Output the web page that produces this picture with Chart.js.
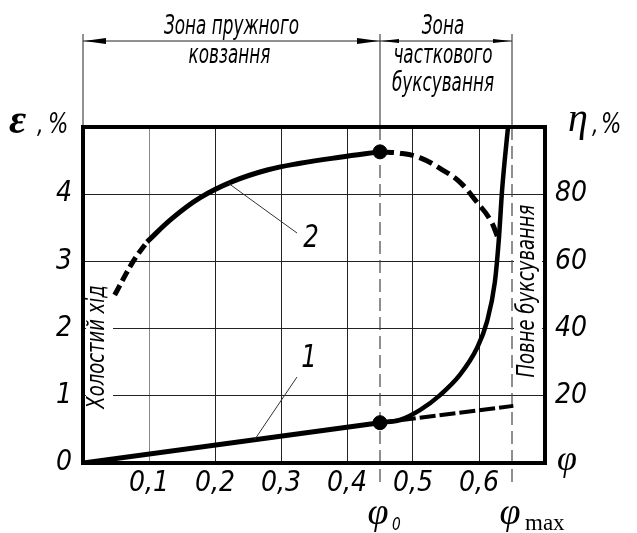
<!DOCTYPE html>
<html>
<head>
<meta charset="utf-8">
<script src="https://cdn.jsdelivr.net/npm/chart.js@4.4.1/dist/chart.umd.min.js"></script>
<style>
  html, body { margin: 0; background: #fff; }
  #wrap { width: 637px; height: 533px; }
</style>
</head>
<body>
<div id="wrap"><canvas id="chart"></canvas></div>
<script>
// tick labels
const xTickLabels = ['0,1', '0,2', '0,3', '0,4', '0,5', '0,6'];
const epsTickLabels = ['0', '1', '2', '3', '4'];
const etaTickLabels = ['20', '40', '60', '80'];

// characteristic points on the φ axis
const phi0 = 0.45;
const phiMax = 0.65;

// curve 1 - slip ε, %
const slipPhi = [0, 0.45];
const slipEps = [0, 0.6];
const slipTailPhi = [0.45, 0.652];
const slipTailEps = [0.6, 0.85];
const slipRisePhi = [0.45, 0.48, 0.511, 0.541, 0.571, 0.597, 0.612, 0.624, 0.630, 0.635, 0.639, 0.644];
const slipRiseEps = [0.6, 0.64, 0.79, 1.01, 1.31, 1.71, 2.10, 2.69, 3.32, 4.06, 4.51, 5.0];

// curve 2 - efficiency η, %
const effStartPhi = [0.048, 0.076, 0.097];
const effStartEta = [50, 60, 65.8];
const effMainPhi = [0.097, 0.135, 0.177, 0.227, 0.279, 0.329, 0.389, 0.45];
const effMainEta = [65.8, 72.8, 78.9, 83.8, 87.2, 89.2, 91.0, 92.6];
const effEndPhi = [0.45, 0.48, 0.511, 0.545, 0.571, 0.597, 0.617, 0.630];
const effEndEta = [92.6, 92.2, 90.8, 87.2, 83.6, 77.6, 72.4, 66.4];

const toXY = (xs, ys) => xs.map((v, i) => ({ x: v, y: ys[i] }));

const GOST = '"DejaVu Sans Condensed", "DejaVu Sans", sans-serif';
const SERIF = '"Liberation Serif", "DejaVu Serif", serif';

// draws text squeezed horizontally, like the narrow drafting font
function narrowText(ctx, txt, x, y, font, sx, rot) {
  ctx.save();
  ctx.translate(x, y);
  if (rot) ctx.rotate(rot);
  ctx.scale(sx, 1);
  ctx.font = font;
  ctx.fillText(txt, 0, 0);
  ctx.restore();
}

const drawings = {
  id: 'drawings',
  beforeDatasetsDraw(chart) {
    const { ctx, chartArea: a, scales: { x } } = chart;
    const xa = x.getPixelForValue(phi0);
    const xb = x.getPixelForValue(phiMax);
    ctx.save();
    // white backing under the rotated notes
    ctx.fillStyle = '#fff';
    ctx.fillRect(a.left + 3, 274, 27, 148);
    ctx.fillRect(xb + 2, 198, 28, 186);

    // dashed φ0 / φmax lines
    ctx.strokeStyle = '#444';
    ctx.lineWidth = 1.2;
    ctx.setLineDash([13, 6]);
    [xa, xb].forEach(px => {
      ctx.beginPath();
      ctx.moveTo(px, a.top);
      ctx.lineTo(px, a.bottom + 24);
      ctx.stroke();
    });
    ctx.setLineDash([]);

    // rotated notes
    ctx.fillStyle = '#000';
    ctx.textAlign = 'center';
    ctx.textBaseline = 'middle';
    const f = 'oblique 25px ' + GOST;
    narrowText(ctx, 'Холостий хід', a.left + 14, 347, f, 0.8, -Math.PI / 2);
    narrowText(ctx, 'Повне буксування', xb + 15, 291, f, 0.8, -Math.PI / 2);
    ctx.restore();
  },
  afterDatasetsDraw(chart) {
    const { ctx, chartArea: a, scales: { x, y, y1 } } = chart;
    ctx.save();
    // frame
    ctx.strokeStyle = '#000';
    ctx.lineWidth = 4;
    ctx.strokeRect(a.left, a.top, a.right - a.left, a.bottom - a.top);

    // curve labels with leader lines
    ctx.lineWidth = 1;
    ctx.strokeStyle = '#333';
    const p1x = x.getPixelForValue(0.26), p1y = y.getPixelForValue(0.6 * 0.26 / 0.45);
    ctx.beginPath(); ctx.moveTo(297, 377); ctx.lineTo(p1x, p1y); ctx.stroke();
    const p2x = x.getPixelForValue(0.22), p2y = y1.getPixelForValue(83.3);
    ctx.beginPath(); ctx.moveTo(297, 233); ctx.lineTo(p2x, p2y); ctx.stroke();
    ctx.fillStyle = '#000';
    ctx.textAlign = 'center';
    ctx.textBaseline = 'alphabetic';
    narrowText(ctx, '1', 309, 367, 'oblique 32px ' + GOST, 0.85);
    narrowText(ctx, '2', 311, 247, 'oblique 32px ' + GOST, 0.85);
    ctx.restore();
  },
  afterDraw(chart) {
    const { ctx, chartArea: a, scales: { x } } = chart;
    const xl = a.left;
    const xa = x.getPixelForValue(phi0);
    const xb = x.getPixelForValue(phiMax);
    const yd = 41;
    ctx.save();
    ctx.strokeStyle = '#222';
    ctx.fillStyle = '#000';
    ctx.lineWidth = 1;
    // extension lines
    [xl, xa, xb].forEach(px => {
      ctx.beginPath(); ctx.moveTo(px, 34); ctx.lineTo(px, a.top - 2); ctx.stroke();
    });
    // dimension line
    ctx.beginPath(); ctx.moveTo(xl, yd); ctx.lineTo(xb, yd); ctx.stroke();
    const arrow = (tip, dir, len, half) => {
      ctx.beginPath();
      ctx.moveTo(tip, yd);
      ctx.lineTo(tip + dir * len, yd - half);
      ctx.lineTo(tip + dir * len, yd + half);
      ctx.closePath();
      ctx.fill();
    };
    arrow(xl + 1, 1, 22, 3);
    arrow(xa - 1, -1, 22, 3);
    arrow(xa + 1, 1, 18, 2);
    arrow(xb - 1, -1, 18, 2);

    // zone captions
    ctx.textAlign = 'center';
    ctx.textBaseline = 'alphabetic';
    const zf = 'oblique 26px ' + GOST;
    const c1 = (xl + xa) / 2, c2 = (xa + xb) / 2 - 3;
    narrowText(ctx, 'Зона пружного', c1, 34, zf, 0.72);
    narrowText(ctx, 'ковзання', c1 - 2, 63, zf, 0.72);
    narrowText(ctx, 'Зона', c2, 34, zf, 0.72);
    narrowText(ctx, 'часткового', c2, 63, zf, 0.72);
    narrowText(ctx, 'буксування', c2, 91, zf, 0.72);

    // axis titles
    ctx.textAlign = 'left';
    ctx.font = 'italic bold 42px ' + SERIF;
    ctx.fillText('ε', 9, 133);
    narrowText(ctx, ',', 37, 133, 'oblique 27px ' + GOST, 0.85);
    narrowText(ctx, '%', 48, 133, 'oblique 28px ' + GOST, 0.85);

    ctx.font = 'italic 40px ' + SERIF;
    ctx.fillText('η', 568, 131);
    narrowText(ctx, ',', 592, 133, 'oblique 27px ' + GOST, 0.85);
    narrowText(ctx, '%', 601, 133, 'oblique 28px ' + GOST, 0.85);

    ctx.font = 'italic 36px ' + SERIF;
    ctx.fillText('φ', 557, 470);

    // φ0 and φmax under the axis
    ctx.textAlign = 'center';
    ctx.font = 'italic 38px ' + SERIF;
    ctx.fillText('φ', xa - 2, 524);
    ctx.fillText('φ', xb - 2, 524);
    ctx.textAlign = 'left';
    narrowText(ctx, '0', xa + 12, 530, 'oblique 18px ' + GOST, 0.85);
    ctx.font = '23px ' + SERIF;
    ctx.fillText('max', xb + 13, 530);
    ctx.restore();
  }
};

const ctx = document.getElementById('chart').getContext('2d');
Chart.defaults.color = '#000';

const tickFont = { family: GOST, size: 28, style: 'oblique' };

new Chart(ctx, {
  type: 'line',
  data: {
    datasets: [
      {
        label: 'slip',
        data: toXY(slipPhi, slipEps),
        yAxisID: 'y',
        borderColor: '#000',
        borderWidth: 5,
        pointRadius: 0,
      },
      {
        label: 'slip tail',
        data: toXY(slipTailPhi, slipTailEps),
        yAxisID: 'y',
        borderColor: '#000',
        borderWidth: 4,
        borderDash: [16, 4],
        pointRadius: 0,
      },
      {
        label: 'slip rise',
        data: toXY(slipRisePhi, slipRiseEps),
        yAxisID: 'y',
        borderColor: '#000',
        borderWidth: 4.5,
        cubicInterpolationMode: 'monotone',
        pointRadius: 0,
      },
      {
        label: 'efficiency start',
        data: toXY(effStartPhi, effStartEta),
        yAxisID: 'y1',
        borderColor: '#000',
        borderWidth: 5,
        borderDash: [11, 5],
        tension: 0.4,
        pointRadius: 0,
      },
      {
        label: 'efficiency',
        data: toXY(effMainPhi, effMainEta),
        yAxisID: 'y1',
        borderColor: '#000',
        borderWidth: 5,
        tension: 0.4,
        pointRadius: 0,
      },
      {
        label: 'efficiency end',
        data: toXY(effEndPhi, effEndEta),
        yAxisID: 'y1',
        borderColor: '#000',
        borderWidth: 5,
        borderDash: [14, 6],
        tension: 0.4,
        pointRadius: 0,
      },
      {
        label: 'phi0 slip',
        data: [{ x: phi0, y: slipEps[1] }],
        yAxisID: 'y',
        showLine: false,
        pointRadius: 7,
        pointBackgroundColor: '#000',
        pointBorderColor: '#000',
      },
      {
        label: 'phi0 efficiency',
        data: [{ x: phi0, y: effMainEta[effMainEta.length - 1] }],
        yAxisID: 'y1',
        showLine: false,
        pointRadius: 7,
        pointBackgroundColor: '#000',
        pointBorderColor: '#000',
      },
    ],
  },
  options: {
    responsive: true,
    maintainAspectRatio: false,
    animation: false,
    devicePixelRatio: 1,
    layout: { padding: { top: 127, left: 0, right: 0, bottom: 0 } },
    plugins: {
      legend: { display: false },
      tooltip: { enabled: false },
    },
    scales: {
      x: {
        type: 'linear',
        position: 'bottom',
        min: 0,
        max: 0.7,
        afterFit: (s) => { s.height = 70; },
        border: { display: false },
        grid: {
          drawTicks: false,
          lineWidth: 1,
          color: (c) => (Math.round(c.tick.value * 10) === 1 ? '#888' : '#222'),
        },
        ticks: {
          stepSize: 0.1,
          padding: 4,
          maxRotation: 0,
          font: tickFont,
          callback: (v) => {
            const i = Math.round(v * 10);
            return i >= 1 && i <= xTickLabels.length ? xTickLabels[i - 1] : '';
          },
        },
      },
      y: {
        type: 'linear',
        position: 'left',
        min: 0,
        max: 5,
        afterFit: (s) => { s.width = 83; },
        border: { display: false },
        grid: { drawTicks: false, lineWidth: 1, color: '#222' },
        ticks: {
          stepSize: 1,
          padding: 11,
          font: tickFont,
          callback: (v) => (v < epsTickLabels.length ? epsTickLabels[v] : ''),
        },
      },
      y1: {
        type: 'linear',
        position: 'right',
        min: 0,
        max: 100,
        afterFit: (s) => { s.width = 92; },
        border: { display: false },
        grid: { drawOnChartArea: false, drawTicks: false },
        ticks: {
          stepSize: 20,
          padding: 10,
          font: tickFont,
          callback: (v) => {
            const i = Math.round(v / 20);
            return i >= 1 && i <= etaTickLabels.length ? etaTickLabels[i - 1] : '';
          },
        },
      },
    },
  },
  plugins: [drawings],
});
</script>
</body>
</html>
